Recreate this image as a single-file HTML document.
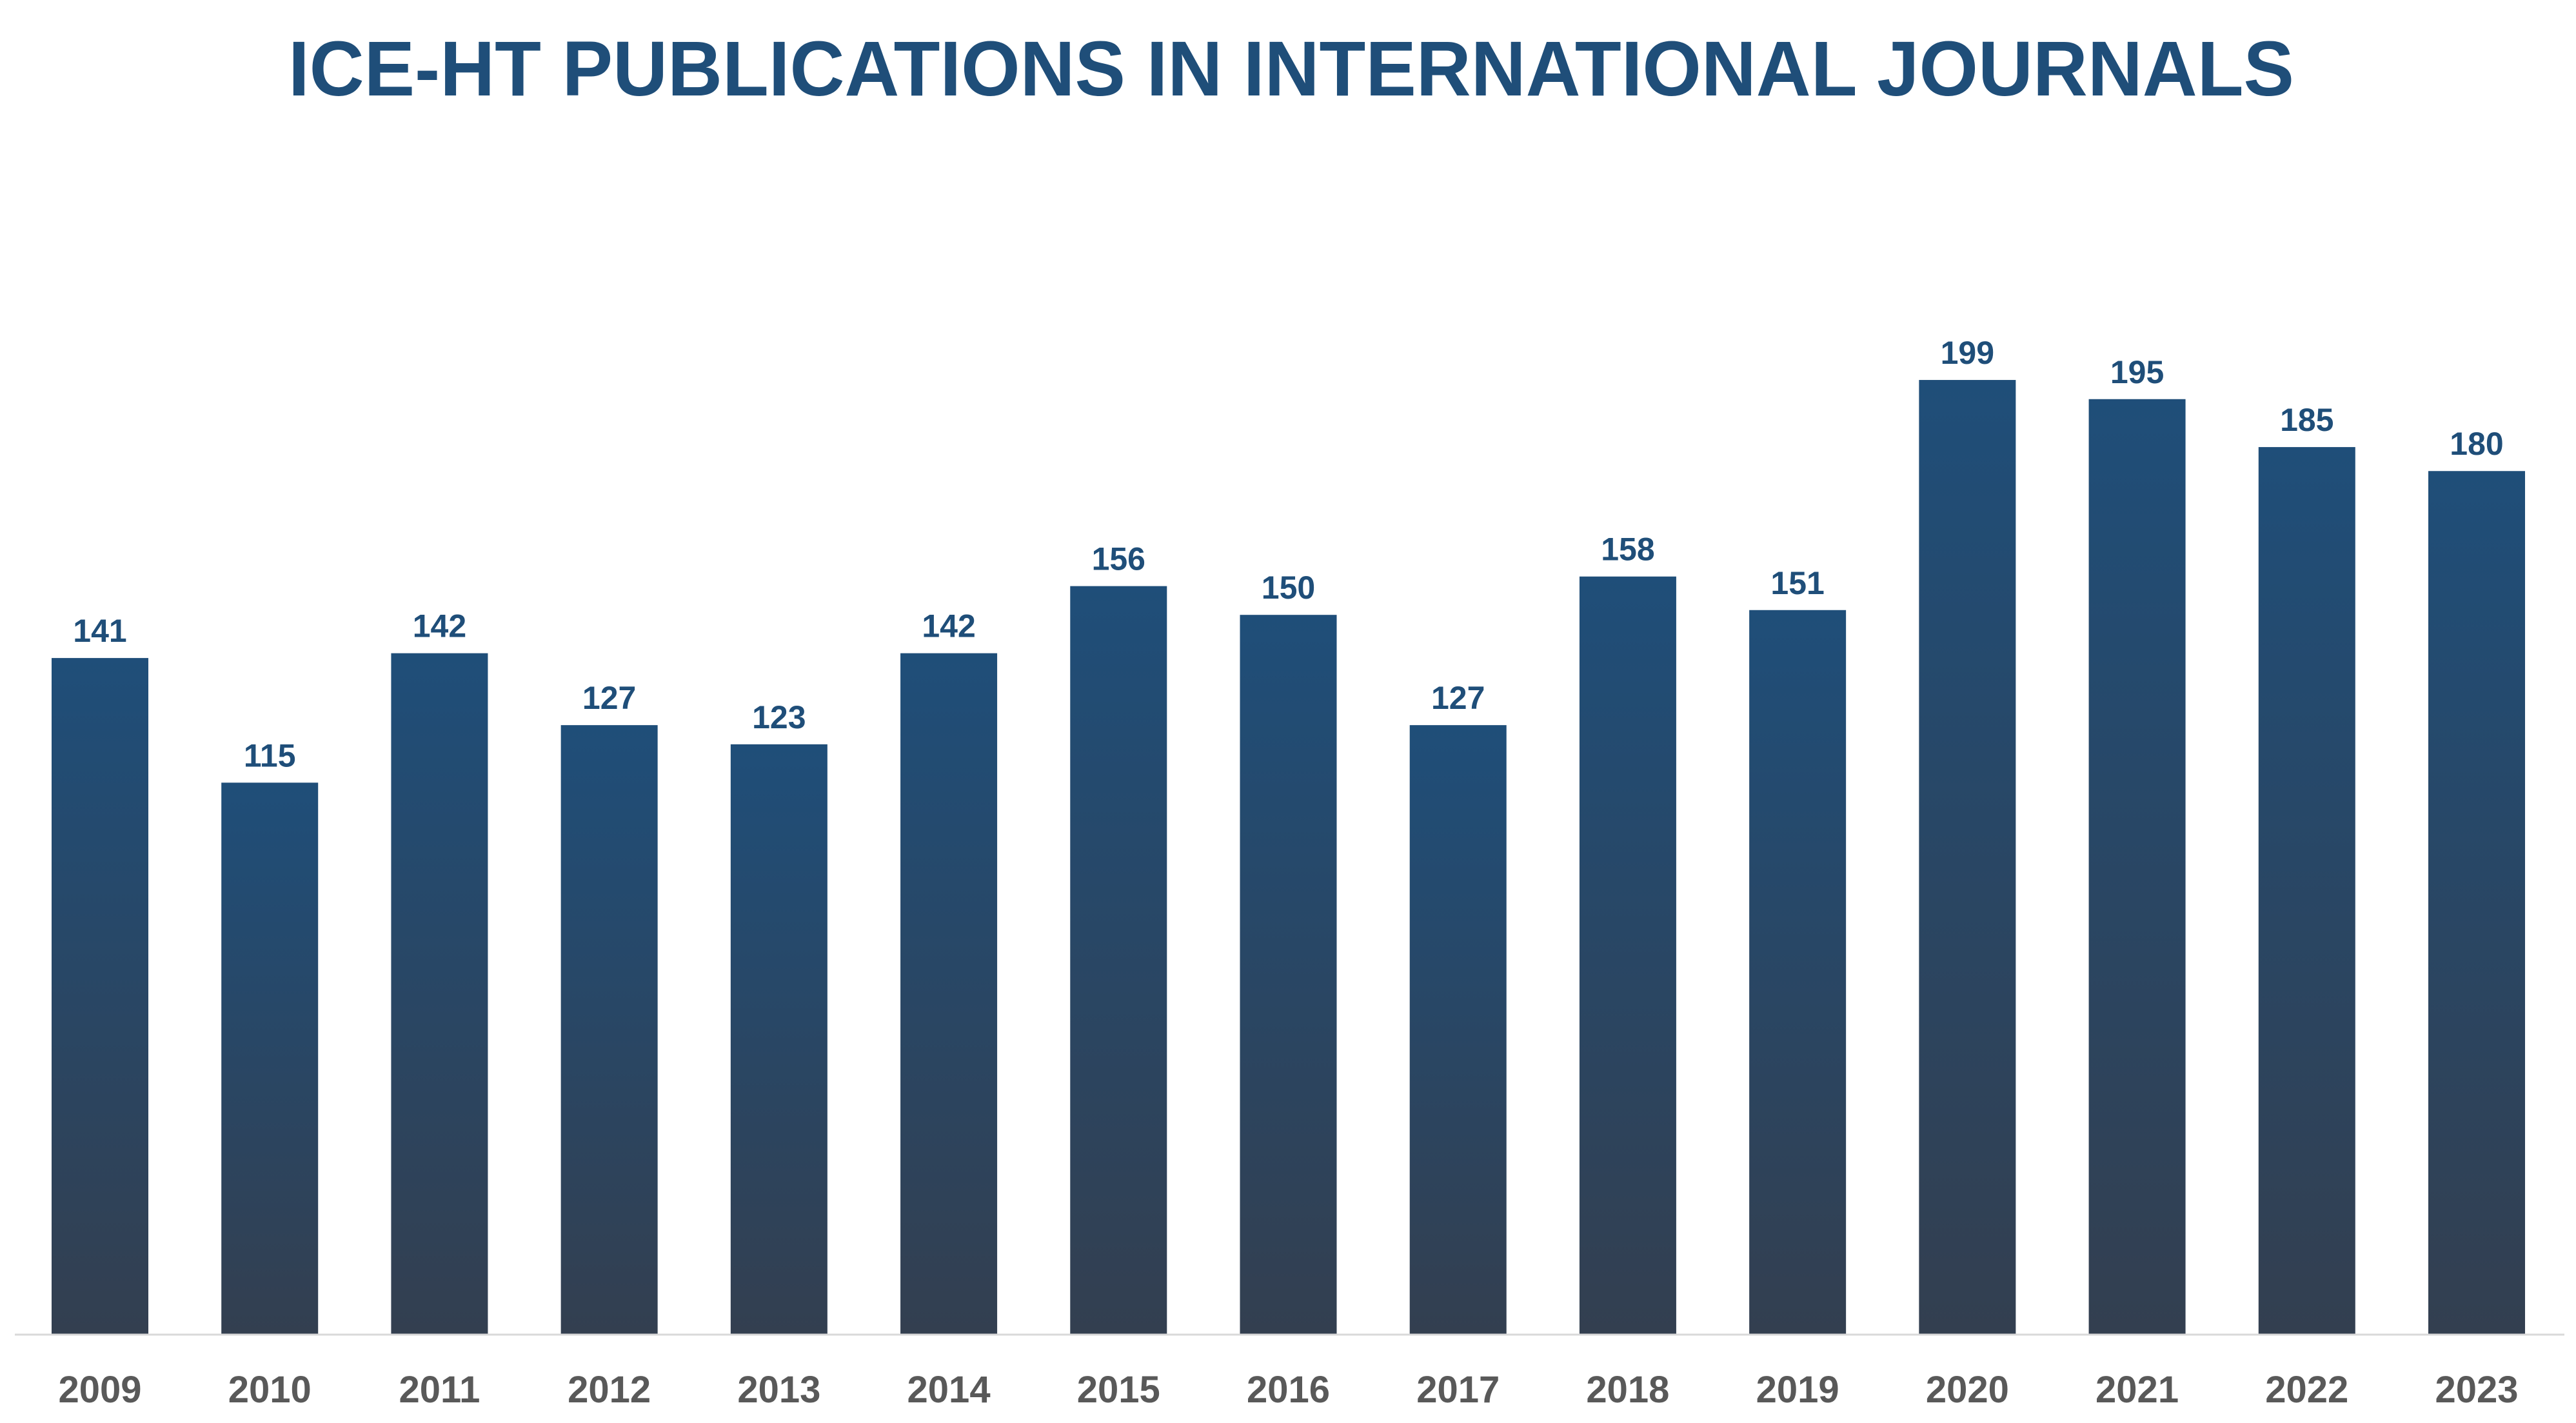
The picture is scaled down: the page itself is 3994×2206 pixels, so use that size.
<!DOCTYPE html>
<html>
<head>
<meta charset="utf-8">
<style>
html,body{margin:0;padding:0;background:#fff;}
svg{display:block;}
</style>
</head>
<body>
<svg id="chart" width="3994" height="2206" viewBox="0 0 3994 2206" xmlns="http://www.w3.org/2000/svg">
  <defs>
    <linearGradient id="barGrad" x1="0" y1="0" x2="0" y2="1">
      <stop offset="0" stop-color="#1f4e79"/>
      <stop offset="1" stop-color="#333f50"/>
    </linearGradient>
  </defs>
  <text x="2002" y="148" text-anchor="middle" textLength="3110" lengthAdjust="spacingAndGlyphs" font-family="'Liberation Sans', sans-serif" font-weight="bold" font-size="121" fill="#1f4e79">ICE-HT PUBLICATIONS IN INTERNATIONAL JOURNALS</text>
  <g id="bars"></g>
  <g id="labels"></g>
  <line x1="23" y1="2069" x2="3976" y2="2069" stroke="#d9d9d9" stroke-width="3"/>
  <g id="xticks"></g>
</svg>
<script>
const years = ["2009","2010","2011","2012","2013","2014","2015","2016","2017","2018","2019","2020","2021","2022","2023"];
const publications = [141,115,142,127,123,142,156,150,127,158,151,199,195,185,180];

const NS = "http://www.w3.org/2000/svg";
const baseY = 2068, pxPerUnit = 7.432;
const firstX = 155, lastX = 3840, barW = 150;
function xScale(i){ return firstX + i*(lastX-firstX)/(years.length-1); }
function yScale(v){ return baseY - v*pxPerUnit; }

const gBars = document.getElementById('bars');
const gLabels = document.getElementById('labels');
const gTicks = document.getElementById('xticks');
years.forEach((yr,i)=>{
  const v = publications[i];
  const cx = xScale(i);
  const r = document.createElementNS(NS,'rect');
  
  
  r.setAttribute('x', cx - barW/2);
  r.setAttribute('y', yScale(v));
  r.setAttribute('width', barW);
  r.setAttribute('height', baseY - yScale(v));
  r.setAttribute('fill', 'url(#barGrad)');
  gBars.appendChild(r);

  const t = document.createElementNS(NS,'text');
  
  
  t.setAttribute('x', cx);
  t.setAttribute('y', yScale(v) - 25);
  t.setAttribute('text-anchor', 'middle');
  t.setAttribute('font-family', "'Liberation Sans', sans-serif");
  t.setAttribute('font-weight', 'bold');
  t.setAttribute('font-size', '50');
  t.setAttribute('fill', '#1f4e79');
  t.textContent = String(v);
  gLabels.appendChild(t);

  const yt = document.createElementNS(NS,'text');
  
  
  yt.setAttribute('x', cx);
  yt.setAttribute('y', 2174);
  yt.setAttribute('text-anchor', 'middle');
  yt.setAttribute('font-family', "'Liberation Sans', sans-serif");
  yt.setAttribute('font-weight', 'bold');
  yt.setAttribute('font-size', '58');
  yt.setAttribute('fill', '#595959');
  yt.textContent = yr;
  gTicks.appendChild(yt);
});
</script>
</body>
</html>
